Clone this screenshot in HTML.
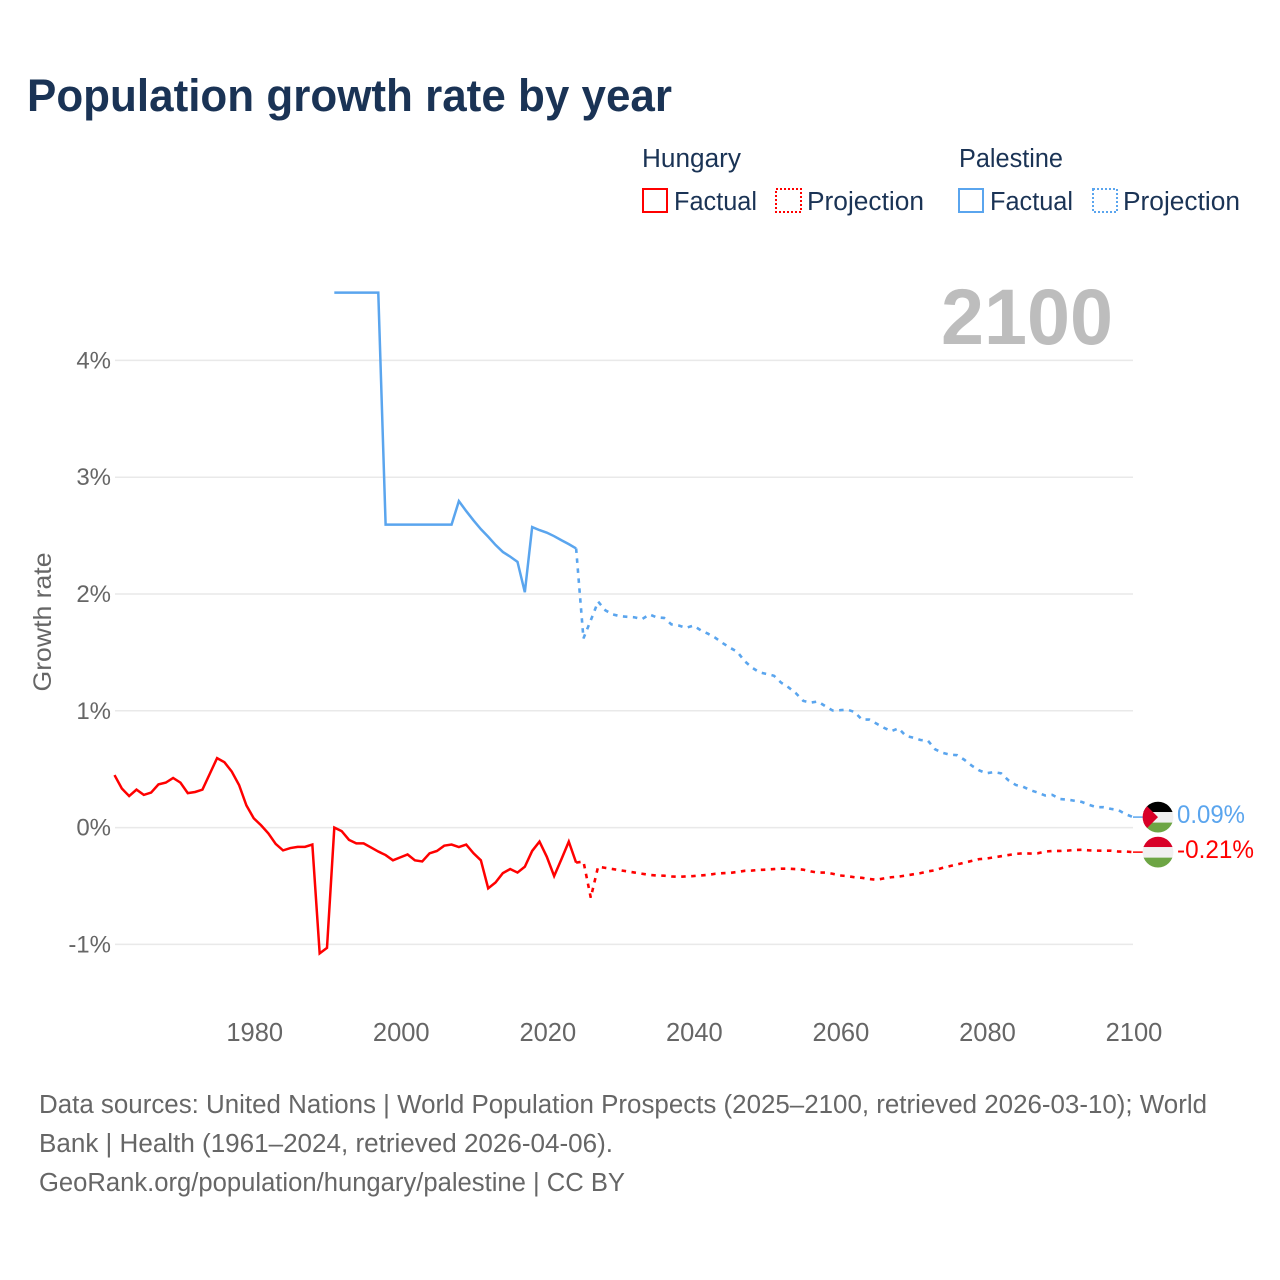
<!DOCTYPE html>
<html lang="en">
<head>
<meta charset="utf-8">
<title>Population growth rate by year</title>
<style>
html,body{margin:0;padding:0;background:#fff;}
svg{display:block;font-family:"Liberation Sans",sans-serif;}
</style>
</head>
<body>
<svg id="chart" xmlns="http://www.w3.org/2000/svg" width="1280" height="1280" viewBox="0 0 1280 1280">
  <defs>
    <clipPath id="flag-clip"><circle cx="0" cy="0" r="15.4"></circle></clipPath>
  </defs>
  <rect x="0" y="0" width="1280" height="1280" fill="#ffffff"></rect>
  <text x="27" y="111" font-size="45" font-weight="700" fill="#1a3355" textLength="645" lengthAdjust="spacingAndGlyphs">Population growth rate by year</text>

  <g fill="#1a3355" font-size="25.5">
    <text x="642" y="167" textLength="99" lengthAdjust="spacingAndGlyphs">Hungary</text>
    <rect x="643" y="189" width="24" height="23" fill="none" stroke="#ff0000" stroke-width="2"></rect>
    <text x="674" y="210" textLength="83" lengthAdjust="spacingAndGlyphs">Factual</text>
    <rect x="776" y="189" width="25" height="23" fill="none" stroke="#ff0000" stroke-width="2" stroke-dasharray="2 2"></rect>
    <text x="807" y="210" textLength="117" lengthAdjust="spacingAndGlyphs">Projection</text>
    <text x="959" y="167" textLength="104" lengthAdjust="spacingAndGlyphs">Palestine</text>
    <rect x="959" y="189" width="24" height="23" fill="none" stroke="#5aa5ee" stroke-width="2"></rect>
    <text x="990" y="210" textLength="83" lengthAdjust="spacingAndGlyphs">Factual</text>
    <rect x="1093" y="189" width="24" height="23" fill="none" stroke="#5aa5ee" stroke-width="2" stroke-dasharray="2 2"></rect>
    <text x="1123" y="210" textLength="117" lengthAdjust="spacingAndGlyphs">Projection</text>
  </g>

  <g id="grid"></g>
  <g id="y-ticks"></g>
  <g id="x-ticks"></g>

  <text transform="translate(51,622) rotate(-90)" text-anchor="middle" font-size="25" fill="#666666" textLength="139" lengthAdjust="spacingAndGlyphs">Growth rate</text>
  <text x="941" y="344" font-size="79" font-weight="700" fill="#bdbdbd" textLength="172" lengthAdjust="spacingAndGlyphs">2100</text>

  <g id="series"></g>

  <g id="flag-palestine">
    <g clip-path="url(#flag-clip)">
      <rect x="-16" y="-16" width="32" height="11" fill="#000000"></rect>
      <rect x="-16" y="-5" width="32" height="10.5" fill="#f0f0f0"></rect>
      <rect x="-16" y="5.5" width="32" height="11" fill="#6da544"></rect>
      <polygon points="0,0 -16,-16 -16,16" fill="#d80027"></polygon>
    </g>
  </g>
  <g id="flag-hungary">
    <g clip-path="url(#flag-clip)">
      <rect x="-16" y="-16" width="32" height="11" fill="#d80027"></rect>
      <rect x="-16" y="-5" width="32" height="10.5" fill="#f0f0f0"></rect>
      <rect x="-16" y="5.5" width="32" height="11" fill="#6da544"></rect>
    </g>
  </g>
  <text id="end-label-palestine" x="1177" font-size="25" fill="#5aa5ee" textLength="68" lengthAdjust="spacingAndGlyphs"></text>
  <text id="end-label-hungary" x="1177" font-size="25" fill="#ff0000" textLength="77" lengthAdjust="spacingAndGlyphs"></text>

  <g font-size="25.5" fill="#666666">
    <text x="39" y="1113" textLength="1168" lengthAdjust="spacingAndGlyphs">Data sources: United Nations | World Population Prospects (2025–2100, retrieved 2026-03-10); World</text>
    <text x="39" y="1152" textLength="574" lengthAdjust="spacingAndGlyphs">Bank | Health (1961–2024, retrieved 2026-04-06).</text>
    <text x="39" y="1191" textLength="586" lengthAdjust="spacingAndGlyphs">GeoRank.org/population/hungary/palestine | CC BY</text>
  </g>
</svg>
<script>
const xTickYears = [1980, 2000, 2020, 2040, 2060, 2080, 2100];
const yTickValues = [-1, 0, 1, 2, 3, 4];
const yTickLabels = ['-1%', '0%', '1%', '2%', '3%', '4%'];

const hungaryFactualStart = 1961;
const hungaryFactual = [
  0.45, 0.335, 0.27, 0.325, 0.28, 0.30, 0.37, 0.385, 0.425, 0.385,
  0.295, 0.305, 0.325, 0.46, 0.595, 0.56, 0.48, 0.365, 0.19, 0.08,
  0.02, -0.05, -0.14, -0.195, -0.175, -0.165, -0.165, -0.145, -1.077, -1.03,
  0.0, -0.03, -0.105, -0.135, -0.135, -0.17, -0.205, -0.235, -0.28, -0.255,
  -0.23, -0.28, -0.29, -0.22, -0.2, -0.155, -0.145, -0.167, -0.145, -0.22,
  -0.28, -0.52, -0.47, -0.39, -0.355, -0.385, -0.335, -0.2, -0.12, -0.25,
  -0.415, -0.27, -0.12, -0.3
];
const hungaryProjectionStart = 2024;
const hungaryProjection = [
  -0.3, -0.29, -0.6, -0.335, -0.345, -0.355, -0.365, -0.375, -0.385, -0.395,
  -0.405, -0.41, -0.412, -0.418, -0.422, -0.418, -0.415, -0.41, -0.405, -0.395,
  -0.39, -0.388, -0.38, -0.37, -0.368, -0.362, -0.36, -0.355, -0.352, -0.352,
  -0.355, -0.36, -0.375, -0.385, -0.385, -0.395, -0.41, -0.415, -0.425, -0.43,
  -0.44, -0.447, -0.435, -0.425, -0.42, -0.41, -0.4, -0.39, -0.375, -0.365,
  -0.345, -0.33, -0.315, -0.3, -0.285, -0.27, -0.265, -0.255, -0.245, -0.235,
  -0.225, -0.22, -0.222, -0.22, -0.205, -0.2, -0.2, -0.197, -0.192, -0.19,
  -0.195, -0.197, -0.198, -0.198, -0.205, -0.205, -0.21
];
const palestineFactualStart = 1991;
const palestineFactual = [
  4.58, 4.58, 4.58, 4.58, 4.58, 4.58, 4.58, 2.594, 2.594, 2.594,
  2.594, 2.594, 2.594, 2.594, 2.594, 2.594, 2.594, 2.795, 2.71, 2.63,
  2.555, 2.49, 2.42, 2.36, 2.32, 2.275, 2.015, 2.573, 2.547, 2.525,
  2.495, 2.46, 2.427, 2.39
];
const palestineProjectionStart = 2024;
const palestineProjection = [
  2.39, 1.62, 1.775, 1.935, 1.86, 1.825, 1.81, 1.805, 1.8, 1.785,
  1.825, 1.8, 1.795, 1.74, 1.73, 1.71, 1.73, 1.69, 1.66, 1.625,
  1.58, 1.54, 1.505, 1.425, 1.37, 1.33, 1.315, 1.3, 1.24, 1.2,
  1.15, 1.085, 1.07, 1.08, 1.04, 1.003, 1.005, 1.01, 0.99, 0.925,
  0.925, 0.89, 0.855, 0.825, 0.85, 0.785, 0.77, 0.75, 0.745, 0.67,
  0.64, 0.625, 0.62, 0.58, 0.53, 0.49, 0.465, 0.475, 0.465, 0.405,
  0.365, 0.35, 0.32, 0.30, 0.275, 0.28, 0.245, 0.24, 0.23, 0.22,
  0.195, 0.175, 0.175, 0.16, 0.15, 0.115, 0.09
];

const SVG_NS = 'http://www.w3.org/2000/svg';
const RED = '#ff0000';
const BLUE = '#5aa5ee';

function xScale(year) { return 114.5 + (year - 1961) * (1133 - 114.5) / 139; }
function yScale(value) { return 827.6 - value * 116.8; }

function make(tag, attrs) {
  const el = document.createElementNS(SVG_NS, tag);
  Object.keys(attrs).forEach(function (k) { el.setAttribute(k, attrs[k]); });
  return el;
}

const gridGroup = document.getElementById('grid');
const yTickGroup = document.getElementById('y-ticks');
yTickValues.forEach(function (v, i) {
  const line = make('line', { x1: 115, x2: 1133, y1: yScale(v), y2: yScale(v), stroke: '#e9e9e9', 'stroke-width': 1.5 });
  
  
  gridGroup.appendChild(line);
  const label = make('text', { x: 111, y: yScale(v) + 8, 'text-anchor': 'end', 'font-size': 24, fill: '#666666' });
  label.textContent = yTickLabels[i];
  
  
  yTickGroup.appendChild(label);
});

const xTickGroup = document.getElementById('x-ticks');
xTickYears.forEach(function (year) {
  const label = make('text', { x: xScale(year) + 1, y: 1041, 'text-anchor': 'middle', 'font-size': 25.5, fill: '#666666' });
  label.textContent = String(year);
  
  
  xTickGroup.appendChild(label);
});

function linePoints(startYear, values) {
  return values.map(function (v, i) {
    return xScale(startYear + i).toFixed(2) + ',' + yScale(v).toFixed(2);
  }).join(' ');
}

const seriesGroup = document.getElementById('series');

const hungaryFactualLine = make('polyline', { points: linePoints(hungaryFactualStart, hungaryFactual), fill: 'none', stroke: RED, 'stroke-width': 2.5, 'stroke-linejoin': 'miter' });


seriesGroup.appendChild(hungaryFactualLine);

const hungaryProjectionLine = make('polyline', { points: linePoints(hungaryProjectionStart, hungaryProjection), fill: 'none', stroke: RED, 'stroke-width': 2.6, 'stroke-dasharray': '4.5 5.5' });


seriesGroup.appendChild(hungaryProjectionLine);

const palestineFactualLine = make('polyline', { points: linePoints(palestineFactualStart, palestineFactual), fill: 'none', stroke: BLUE, 'stroke-width': 2.5 });


seriesGroup.appendChild(palestineFactualLine);

const palestineProjectionLine = make('polyline', { points: linePoints(palestineProjectionStart, palestineProjection), fill: 'none', stroke: BLUE, 'stroke-width': 2.6, 'stroke-dasharray': '4.5 5.5' });


seriesGroup.appendChild(palestineProjectionLine);

const hungaryEnd = hungaryProjection[hungaryProjection.length - 1];
const palestineEnd = palestineProjection[palestineProjection.length - 1];

const hungaryLeader = make('line', { x1: xScale(2100), x2: 1146, y1: yScale(hungaryEnd), y2: yScale(hungaryEnd), stroke: RED, 'stroke-width': 1.5 });


seriesGroup.appendChild(hungaryLeader);

const palestineLeader = make('line', { x1: xScale(2100), x2: 1146, y1: yScale(palestineEnd), y2: yScale(palestineEnd), stroke: BLUE, 'stroke-width': 1.5 });


seriesGroup.appendChild(palestineLeader);

document.getElementById('flag-palestine').setAttribute('transform', 'translate(1158,' + yScale(palestineEnd) + ')');
document.getElementById('flag-hungary').setAttribute('transform', 'translate(1158,' + yScale(hungaryEnd) + ')');

const palestineLabel = document.getElementById('end-label-palestine');
palestineLabel.setAttribute('y', yScale(palestineEnd) + 5.8);
palestineLabel.textContent = palestineEnd.toFixed(2) + '%';

const hungaryLabel = document.getElementById('end-label-hungary');
hungaryLabel.setAttribute('y', yScale(hungaryEnd) + 5.8);
hungaryLabel.textContent = hungaryEnd.toFixed(2) + '%';
</script>
</body>
</html>
